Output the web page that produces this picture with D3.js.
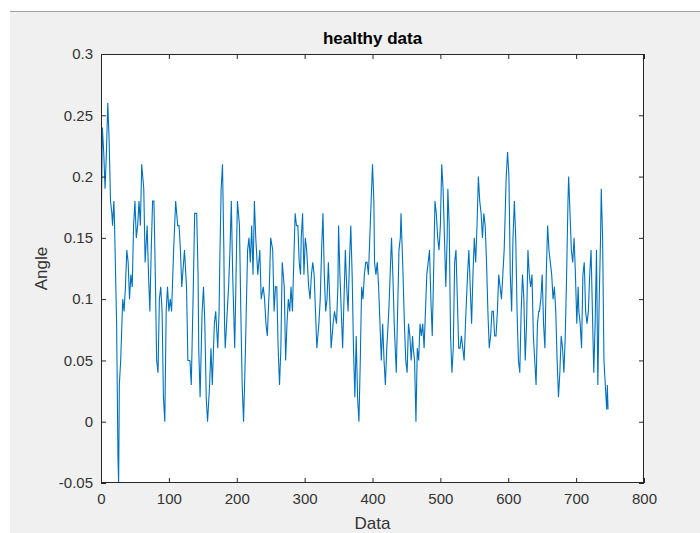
<!DOCTYPE html>
<html>
<head>
<meta charset="utf-8">
<script src="https://cdn.jsdelivr.net/npm/d3@7"></script>
<style>
  body { margin: 0; background: #fff; }
  svg { display: block; }
  text { font-family: "Liberation Sans", Arial, sans-serif; fill: #262626; }
</style>
</head>
<body>
<div id="chart"></div>
<script>
// sample index (Data axis) of each point
var sampleIdx = [0, 2, 4, 6, 8, 10, 12, 14, 16, 17, 19, 20, 23, 25, 26, 27, 29, 32, 34, 36, 38, 40, 42, 44, 46, 48, 50, 52, 54, 56, 58, 60, 63, 65, 68, 70, 72, 74, 76, 78, 80, 82, 84, 86, 88, 90, 92, 94, 96, 98, 100, 102, 104, 107, 110, 113, 115, 117, 119, 123, 125, 126, 128, 131, 133, 136, 138, 141, 143, 144, 146, 149, 151, 153, 155, 157, 160, 162, 164, 167, 169, 172, 174, 175, 177, 179, 181, 182, 183, 185, 188, 190, 192, 194, 197, 199, 201, 204, 206, 208, 210, 212, 214, 216, 218, 220, 222, 224, 226, 228, 231, 234, 236, 239, 241, 243, 245, 248, 250, 253, 255, 257, 259, 261, 263, 265, 267,
  270, 272, 274, 276, 278, 280, 282, 284, 286, 288, 290, 292, 294, 295, 297, 299, 301, 303, 306, 308, 310, 312, 314, 316, 318, 321, 323, 325, 327, 329, 331, 333, 335, 337, 339, 342, 344, 347, 349, 350, 352, 354, 356, 358, 360, 362, 364, 366, 368, 370, 372, 374, 376, 378, 380, 382, 384, 386, 388, 390, 392, 394, 396, 398, 400, 402, 403, 405, 407, 409, 411, 413, 415, 417, 419, 421, 424, 426, 428, 430, 432, 435, 437, 439, 441, 442, 445, 447, 449, 451, 453, 455, 457, 459, 460, 462, 464, 466, 468, 470, 472, 474, 476, 478, 480, 482, 484, 486, 488, 490, 492, 494, 496, 498, 500, 502, 504, 506, 508, 510, 511, 513, 515, 517, 519, 521, 523, 525, 527, 529, 531, 533, 535, 537, 540, 542,
  544, 546, 548, 550, 552, 554, 556, 558, 560, 562, 564, 566, 568, 570, 572, 574, 576, 578, 580, 582, 584, 586, 588, 590, 592, 594, 596, 597, 599, 601, 603, 605, 607, 609, 611, 613, 615, 617, 619, 621, 623, 625, 627, 629, 631, 633, 635, 637, 639, 641, 643, 645, 646, 648, 650, 652, 654, 656, 658, 660, 662, 664, 666, 668, 670, 672, 674, 676, 678, 680, 682, 684, 686, 688, 689, 691, 693, 695, 697, 699, 701, 703, 704, 706, 708, 710, 712, 714, 716, 718, 720, 722, 724, 726, 728, 730, 732, 734, 736, 737, 739, 741, 743, 745, 746, 747];

// angle values at those samples
var angle = [0.14, 0.24, 0.22, 0.19, 0.22, 0.26, 0.23, 0.18, 0.17, 0.16, 0.18, 0.16, 0.08, -0.03, -0.05, 0.03, 0.05, 0.10, 0.09, 0.11, 0.14, 0.13, 0.10, 0.12, 0.11, 0.16, 0.18, 0.15, 0.16, 0.18, 0.16, 0.21, 0.19, 0.13, 0.16, 0.12, 0.09, 0.14, 0.18, 0.18, 0.12, 0.05, 0.04, 0.10, 0.11, 0.09, 0.02, 0.00, 0.09, 0.11, 0.09, 0.10, 0.09, 0.14, 0.18, 0.16, 0.16, 0.14, 0.11, 0.14, 0.12, 0.11, 0.05, 0.05, 0.03, 0.11, 0.17, 0.17, 0.12, 0.06, 0.02, 0.09, 0.11, 0.08, 0.02, 0.00, 0.03, 0.06, 0.03, 0.08, 0.09, 0.06, 0.09, 0.13, 0.19, 0.21, 0.14, 0.08, 0.06, 0.08, 0.11, 0.14, 0.18, 0.12, 0.06, 0.12, 0.18, 0.16, 0.09, 0.03, 0.00, 0.04, 0.09, 0.14, 0.15, 0.13, 0.16, 0.12, 0.18, 0.15, 0.12, 0.14, 0.10, 0.11, 0.10, 0.08, 0.07, 0.11, 0.15, 0.14, 0.09, 0.11, 0.11, 0.06, 0.03, 0.06, 0.13,
  0.11, 0.05, 0.08, 0.10, 0.09, 0.11, 0.09, 0.13, 0.17, 0.16, 0.16, 0.13, 0.12, 0.15, 0.17, 0.12, 0.15, 0.14, 0.11, 0.10, 0.12, 0.13, 0.12, 0.09, 0.06, 0.08, 0.10, 0.14, 0.17, 0.12, 0.09, 0.10, 0.13, 0.10, 0.06, 0.08, 0.09, 0.08, 0.11, 0.16, 0.12, 0.09, 0.06, 0.10, 0.14, 0.11, 0.09, 0.13, 0.16, 0.12, 0.06, 0.02, 0.07, 0.02, 0.00, 0.05, 0.11, 0.10, 0.12, 0.13, 0.13, 0.12, 0.15, 0.18, 0.21, 0.18, 0.13, 0.12, 0.13, 0.11, 0.08, 0.05, 0.08, 0.05, 0.03, 0.06, 0.09, 0.12, 0.15, 0.12, 0.08, 0.04, 0.09, 0.14, 0.15, 0.17, 0.12, 0.08, 0.05, 0.04, 0.08, 0.07, 0.05, 0.07, 0.06, 0.05, 0.00, 0.06, 0.05, 0.08, 0.07, 0.08, 0.06, 0.09, 0.12, 0.13, 0.14, 0.10, 0.07, 0.12, 0.18, 0.17, 0.15, 0.14, 0.16, 0.21, 0.19, 0.15, 0.11, 0.15, 0.19, 0.16, 0.07, 0.04, 0.06, 0.13, 0.14, 0.10, 0.06, 0.06, 0.07, 0.06, 0.05, 0.08, 0.12, 0.14,
  0.11, 0.08, 0.12, 0.15, 0.13, 0.16, 0.20, 0.18, 0.17, 0.15, 0.17, 0.16, 0.13, 0.09, 0.06, 0.07, 0.09, 0.09, 0.07, 0.07, 0.09, 0.12, 0.11, 0.10, 0.12, 0.14, 0.18, 0.20, 0.22, 0.20, 0.12, 0.09, 0.15, 0.18, 0.15, 0.09, 0.05, 0.04, 0.09, 0.12, 0.10, 0.05, 0.08, 0.14, 0.12, 0.11, 0.12, 0.07, 0.05, 0.03, 0.08, 0.09, 0.09, 0.10, 0.12, 0.08, 0.06, 0.12, 0.16, 0.14, 0.13, 0.12, 0.10, 0.11, 0.09, 0.05, 0.02, 0.04, 0.07, 0.06, 0.04, 0.07, 0.12, 0.18, 0.20, 0.17, 0.14, 0.13, 0.15, 0.12, 0.08, 0.11, 0.09, 0.08, 0.06, 0.12, 0.13, 0.09, 0.08, 0.09, 0.12, 0.14, 0.09, 0.04, 0.08, 0.14, 0.03, 0.10, 0.15, 0.19, 0.15, 0.05, 0.03, 0.01, 0.03, 0.01];

var xTicks = [0, 100, 200, 300, 400, 500, 600, 700, 800];
var yTicks = [-0.05, 0, 0.05, 0.1, 0.15, 0.2, 0.25, 0.3];

var W = 700, H = 533;
var plot = { left: 101, top: 54, right: 644, bottom: 483 };

var svg = d3.select("#chart").append("svg")
    .attr("width", W)
    .attr("height", H);

// figure background (MATLAB grey) with white strip above and left
svg.append("rect").attr("x", 10).attr("y", 11).attr("width", W - 10).attr("height", H - 11)
    .style("fill", "#f0f0f0");
svg.append("line").attr("x1", 10).attr("x2", W).attr("y1", 11.5).attr("y2", 11.5)
    .style("stroke", "#a0a0a0").style("stroke-width", 1);

var x = d3.scaleLinear().domain([0, 800]).range([plot.left, plot.right]);
var y = d3.scaleLinear().domain([-0.05, 0.3]).range([plot.bottom, plot.top]);

svg.append("rect")
    .attr("x", plot.left).attr("y", plot.top)
    .attr("width", plot.right - plot.left).attr("height", plot.bottom - plot.top)
    .style("fill", "#fff");

svg.append("defs").append("clipPath").attr("id", "clip")
    .append("rect")
    .attr("x", plot.left).attr("y", plot.top)
    .attr("width", plot.right - plot.left).attr("height", plot.bottom - plot.top);

var pts = sampleIdx.map(function(d, i) { return [d, angle[i]]; });

var line = d3.line()
    .x(function(d) { return x(d[0]); })
    .y(function(d) { return y(d[1]); });

svg.append("path")
    .datum(pts)
    .attr("clip-path", "url(#clip)")
    .attr("d", line)
    .style("fill", "none")
    .style("stroke", "#0072bd")
    .style("stroke-width", 1.1)
    .style("stroke-linejoin", "miter");

var tickLen = 5;
var axisColor = "#262626";
var fmt = function(d) { return d === 0 ? "0" : String(+d.toFixed(2)); };

// bottom + top axes, ticks inward
var xAxis = d3.axisBottom(x).tickValues(xTicks).tickSizeInner(-tickLen).tickSizeOuter(0).tickPadding(10);
var gx = svg.append("g").attr("transform", "translate(0," + plot.bottom + ")").call(xAxis);
var gxTop = svg.append("g").attr("transform", "translate(0," + plot.top + ")")
    .call(d3.axisTop(x).tickValues(xTicks).tickSizeInner(-tickLen).tickSizeOuter(0).tickFormat(""));

var yAxis = d3.axisLeft(y).tickValues(yTicks).tickSizeInner(-tickLen).tickSizeOuter(0).tickPadding(8).tickFormat(fmt);
var gy = svg.append("g").attr("transform", "translate(" + plot.left + ",0)").call(yAxis);
var gyRight = svg.append("g").attr("transform", "translate(" + plot.right + ",0)")
    .call(d3.axisRight(y).tickValues(yTicks).tickSizeInner(-tickLen).tickSizeOuter(0).tickFormat(""));

[gx, gxTop, gy, gyRight].forEach(function(g) {
    g.select(".domain").remove();
    g.selectAll(".tick line").style("stroke", axisColor);
    g.selectAll("text").style("font-size", "15px").style("font-family", "Liberation Sans, Arial, sans-serif").style("fill", "#333");
});

// box
svg.append("rect")
    .attr("x", plot.left + 0.5).attr("y", plot.top + 0.5)
    .attr("width", plot.right - plot.left - 1).attr("height", plot.bottom - plot.top - 1)
    .style("fill", "none").style("stroke", axisColor).style("stroke-width", 1);

svg.append("text")
    .attr("x", (plot.left + plot.right) / 2).attr("y", 44)
    .attr("text-anchor", "middle")
    .style("font-size", "17px").style("font-weight", "bold")
    .style("fill", "#000")
    .text("healthy data");

svg.append("text")
    .attr("x", (plot.left + plot.right) / 2).attr("y", 529)
    .attr("text-anchor", "middle")
    .style("font-size", "17px")
    .style("fill", "#333")
    .text("Data");

svg.append("text")
    .attr("transform", "translate(47," + (plot.top + plot.bottom) / 2 + ") rotate(-90)")
    .attr("text-anchor", "middle")
    .style("font-size", "17px")
    .style("fill", "#333")
    .text("Angle");
</script>
</body>
</html>
